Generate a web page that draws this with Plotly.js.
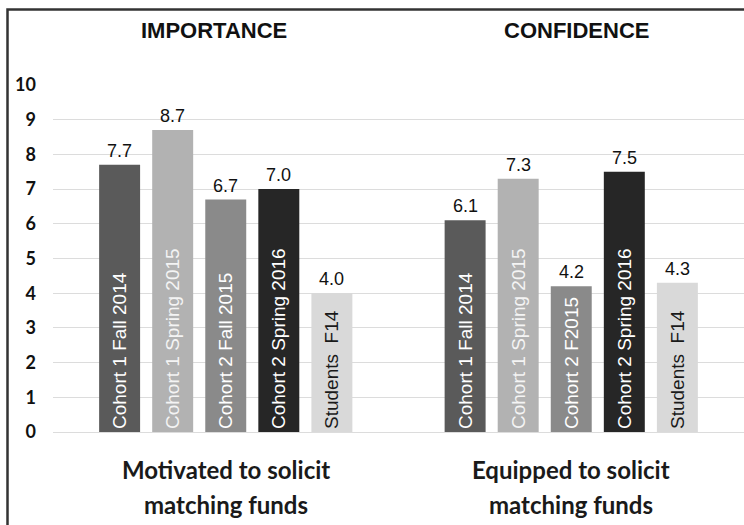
<!DOCTYPE html>
<html>
<head>
<meta charset="utf-8">
<script src="https://cdn.plot.ly/plotly-3.0.1.min.js"></script>
<style>
  html, body { margin: 0; padding: 0; background: #ffffff; }
  #chart { width: 744px; height: 525px; }
</style>
</head>
<body>
<div id="chart"></div>
<script>
// Survey groups (x categories), each written on two lines under the bars
const groupNames = ['Motivated to solicit matching funds', 'Equipped to solicit matching funds'];
const groupLines = [['Motivated to solicit', 'matching funds'], ['Equipped to solicit', 'matching funds']];
const groupHeads = ['IMPORTANCE', 'CONFIDENCE'];

// Respondent cohorts (one bar series each)
const cohorts = ['Cohort 1 Fall 2014', 'Cohort 1 Spring 2015', 'Cohort 2 Fall 2015', 'Cohort 2 Spring 2016', 'Students F14'];

// Mean scores (0-10)
const importance = [7.7, 8.7, 6.7, 7.0, 4.0];
const confidence = [6.1, 7.3, 4.2, 7.5, 4.3];

// Labels written inside the bars
const importanceBarLabels = ['Cohort 1 Fall 2014', 'Cohort 1 Spring 2015', 'Cohort 2 Fall 2015', 'Cohort 2 Spring 2016', 'Students\u00a0\u00a0F14'];
const confidenceBarLabels = ['Cohort 1 Fall 2014', 'Cohort 1 Spring 2015', 'Cohort 2 F2015', 'Cohort 2 Spring 2016', 'Students\u00a0\u00a0F14'];

// Heading that runs off the top edge of the page
const headline = 'Stepping';

// ---- styling ----
const barColors = ['#5a5a5a', '#b2b2b2', '#8a8a8a', '#262626', '#d9d9d9'];
const barTextColors = ['#ffffff', '#f4f4f4', '#ffffff', '#ffffff', '#1a1a1a'];

const W = 744, H = 525;
const M = { l: 53, r: 0, t: 85, b: 93 };
const BARGAP = 0.232;
const BARGROUPGAP = 0.228;

// pixel -> paper helpers for decorations outside the plot area
const plotW = W - M.l - M.r, plotH = H - M.t - M.b;
const xp = px => (px - M.l) / plotW;
const yp = py => (H - M.b - py) / plotH;

const seriesValues = [importance, confidence];
const seriesLabels = [importanceBarLabels, confidenceBarLabels];

const traces = cohorts.map((name, i) => ({
  type: 'bar',
  name: name,
  x: groupNames,
  y: seriesValues.map(v => v[i]),
  text: seriesLabels.map(l => l[i]),
  textposition: 'inside',
  insidetextanchor: 'start',
  textangle: -90,
  textfont: { family: 'Liberation Sans, Arial, sans-serif', size: 19, color: barTextColors[i] },
  marker: { color: barColors[i], line: { width: 0 } },
  hoverinfo: 'skip'
}));

const annotations = [];

// group headings
const headX = [214, 576];
groupHeads.forEach((h, g) => annotations.push({
  text: h, xref: 'paper', yref: 'paper', x: xp(headX[g]), y: yp(31),
  xanchor: 'center', yanchor: 'middle', showarrow: false,
  font: { family: 'Liberation Sans, Arial, sans-serif', size: 22, color: '#111111', weight: 'bold' }
}));

// value labels above each bar, placed at the bar's slot centre within its group
const groupWidth = 1 - BARGAP;
const slot = groupWidth / cohorts.length;
seriesValues.forEach((vals, g) => {
  vals.forEach((v, i) => annotations.push({
    text: v.toFixed(1), xref: 'x', yref: 'y',
    x: g - groupWidth / 2 + slot * (i + 0.5), y: v,
    xanchor: 'center', yanchor: 'bottom', yshift: 2, showarrow: false,
    font: { family: 'Liberation Sans, Arial, sans-serif', size: 18, color: '#111111' }
  }));
});

// two-line group captions under the axis
const lineY = [469, 504];
groupLines.forEach((lines, g) => lines.forEach((t, k) => annotations.push({
  text: t, xref: 'x', yref: 'paper', x: g, y: yp(lineY[k]),
  xanchor: 'center', yanchor: 'middle', showarrow: false,
  font: { family: 'Lato, Noto Sans, sans-serif', size: 24, color: '#1a1a1a', weight: 'bold' }
})));

// heading running off the top edge
annotations.push({
  text: headline, xref: 'paper', yref: 'paper', x: xp(186), y: yp(1.5),
  xanchor: 'left', yanchor: 'bottom', showarrow: false,
  font: { family: 'Liberation Serif, Times New Roman, serif', size: 27, color: '#111111', weight: 'bold' }
});

const layout = {
  width: W, height: H,
  margin: M,
  paper_bgcolor: '#ffffff',
  plot_bgcolor: '#ffffff',
  barmode: 'group',
  bargap: BARGAP,
  bargroupgap: BARGROUPGAP,
  showlegend: false,
  xaxis: {
    type: 'category',
    categoryorder: 'array', categoryarray: groupNames,
    showticklabels: false, showgrid: false, zeroline: false, showline: false, ticks: '',
    fixedrange: true
  },
  yaxis: {
    range: [0, 10], dtick: 1, tick0: 0,
    showgrid: true, gridcolor: '#dcdcdc', gridwidth: 1,
    zeroline: true, zerolinecolor: '#dcdcdc', zerolinewidth: 1,
    showline: false, ticks: '',
    ticklabelstandoff: 16,
    tickfont: { family: 'Lato, Noto Sans, sans-serif', size: 18, color: '#111111', weight: 'bold' },
    fixedrange: true
  },
  annotations: annotations,
  shapes: [{
    type: 'rect', xref: 'paper', yref: 'paper', layer: 'above',
    x0: xp(7.5), x1: xp(770), y0: yp(560), y1: yp(9.5),
    line: { color: '#333333', width: 2.5 }, fillcolor: 'rgba(0,0,0,0)'
  }],
  font: { family: 'Liberation Sans, Arial, sans-serif' }
};

Plotly.newPlot('chart', traces, layout, { staticPlot: true, displayModeBar: false });
</script>
</body>
</html>
